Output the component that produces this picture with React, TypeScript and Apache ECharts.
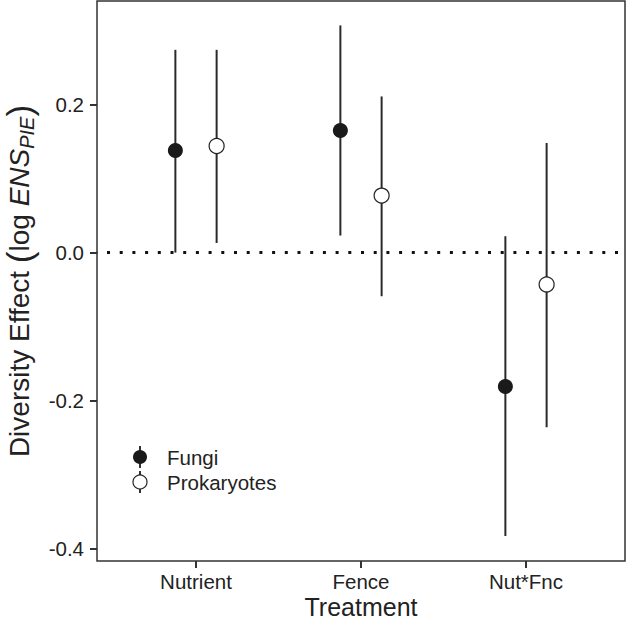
import React, { useEffect, useRef } from "react";
import * as echarts from "echarts";

const categories = ["Nutrient", "Fence", "Nut*Fnc"];
const categoryPositions = [1, 2, 3];
const fungiMean = [0.138, 0.165, -0.181];
const fungiLow = [0.0, 0.023, -0.383];
const fungiHigh = [0.274, 0.307, 0.022];
const prokMean = [0.144, 0.077, -0.043];
const prokLow = [0.013, -0.059, -0.236];
const prokHigh = [0.274, 0.211, 0.148];
const yTicks = [-0.4, -0.2, 0.0, 0.2];
const dodge = 0.125;

const FONT = '"Liberation Sans", Arial, Helvetica, sans-serif';

export default function App() {
  const ref = useRef<HTMLDivElement>(null);
  useEffect(() => {
    if (!ref.current) return;
    const chart = echarts.init(ref.current, null, { renderer: "svg" });

    const fungiPts = categoryPositions.map((x, i) => [x - dodge, fungiMean[i], fungiLow[i], fungiHigh[i]]);
    const prokPts = categoryPositions.map((x, i) => [x + dodge, prokMean[i], prokLow[i], prokHigh[i]]);

    const errRender = (params: any, api: any) => {
      const x = api.value(0);
      const p1 = api.coord([x, api.value(2)]);
      const p2 = api.coord([x, api.value(3)]);
      return {
        type: "line",
        shape: { x1: p1[0], y1: p1[1], x2: p2[0], y2: p2[1] },
        style: { stroke: "#2a2a2a", lineWidth: 2 },
      };
    };

    const option: any = {
      animation: false,
      backgroundColor: "#fff",
      textStyle: { fontFamily: FONT },
      grid: {
        left: 97,
        right: 1,
        top: 1,
        bottom: 60,
        outerBoundsMode: "none",
        containLabel: false,
        show: true,
        borderColor: "#333",
        borderWidth: 1.5,
        backgroundColor: "transparent",
      },
      xAxis: {
        type: "value",
        min: 0.4,
        max: 3.6,
        splitLine: { show: false },
        axisLine: { show: false, onZero: false },
        axisTick: { show: true, customValues: categoryPositions, length: 7, lineStyle: { color: "#333", width: 2 } },
        axisLabel: {
          customValues: categoryPositions,
          formatter: (v: number) => categories[categoryPositions.indexOf(Math.round(v))] ?? "",
          fontSize: 20.5,
          color: "#222",
          margin: 10,
          fontFamily: FONT,
        },
        name: "Treatment",
        nameLocation: "middle",
        nameMoveOverlap: false,
        nameGap: 33,
        nameTextStyle: { fontSize: 25, lineHeight: 25, color: "#222", fontFamily: FONT },
      },
      yAxis: {
        type: "value",
        min: -0.4168,
        max: 0.34,
        splitLine: { show: false },
        axisLine: { show: false, onZero: false },
        axisTick: { show: true, customValues: yTicks, length: 7, lineStyle: { color: "#333", width: 2 } },
        axisLabel: {
          customValues: yTicks,
          formatter: (v: number) => v.toFixed(1),
          fontSize: 20.5,
          color: "#222",
          margin: 13,
          fontFamily: FONT,
        },
        name: "Diversity Effect {p|(}log {i|ENS}{sub|PIE}{p|)}",
        nameLocation: "middle",
        nameRotate: 90,
        nameMoveOverlap: false,
        nameGap: 60,
        nameTextStyle: {
          fontSize: 28,
          color: "#222",
          fontFamily: FONT,
          rich: {
            p: { fontSize: 35, color: "#222", fontFamily: FONT },
            i: { fontSize: 28, fontStyle: "italic", color: "#222", fontFamily: FONT },
            sub: { fontSize: 20, fontStyle: "italic", color: "#222", fontFamily: FONT, verticalAlign: "bottom", padding: [12, 0, 0, 0] },
          },
        },
      },
      series: [
        {
          type: "custom",
          name: "Fungi bars",
          renderItem: errRender,
          data: fungiPts,
          encode: { x: 0, y: [1, 2, 3] },
          z: 2,
          markLine: {
            silent: true,
            symbol: "none",
            label: { show: false },
            lineStyle: { color: "#111", width: 3, type: [3, 9.7], dashOffset: -10 },
            data: [{ yAxis: 0 }],
          },
        },
        {
          type: "custom",
          name: "Prok bars",
          renderItem: errRender,
          data: prokPts,
          encode: { x: 0, y: [1, 2, 3] },
          z: 2,
        },
        {
          type: "scatter",
          name: "Fungi",
          data: fungiPts.map((d) => [d[0], d[1]]),
          symbol: "circle",
          symbolSize: 15,
          itemStyle: { color: "#1a1a1a", opacity: 1 },
          z: 5,
        },
        {
          type: "scatter",
          name: "Prokaryotes",
          data: prokPts.map((d) => [d[0], d[1]]),
          symbol: "circle",
          symbolSize: 15,
          itemStyle: { color: "#fff", borderColor: "#222", borderWidth: 1.2, opacity: 1 },
          z: 5,
        },
      ],
      graphic: [
        { type: "line", shape: { x1: 140, y1: 446, x2: 140, y2: 468 }, style: { stroke: "#333", lineWidth: 2 }, z: 10 },
        { type: "circle", shape: { cx: 140, cy: 457, r: 7 }, style: { fill: "#1a1a1a" }, z: 11 },
        { type: "text", x: 167, y: 457, style: { text: "Fungi", fontSize: 20.5, fill: "#222", fontFamily: FONT, verticalAlign: "middle" }, z: 11 },
        { type: "line", shape: { x1: 140, y1: 471, x2: 140, y2: 493 }, style: { stroke: "#333", lineWidth: 2 }, z: 10 },
        { type: "circle", shape: { cx: 140, cy: 482, r: 7 }, style: { fill: "#fff", stroke: "#222", lineWidth: 1.2 }, z: 11 },
        { type: "text", x: 167, y: 482, style: { text: "Prokaryotes", fontSize: 20.5, fill: "#222", fontFamily: FONT, verticalAlign: "middle" }, z: 11 },
      ],
    };
    chart.setOption(option);
    return () => chart.dispose();
  }, []);
  return <div ref={ref} style={{ width: 626, height: 621, position: "absolute", left: 0, top: 0 }} />;
}
